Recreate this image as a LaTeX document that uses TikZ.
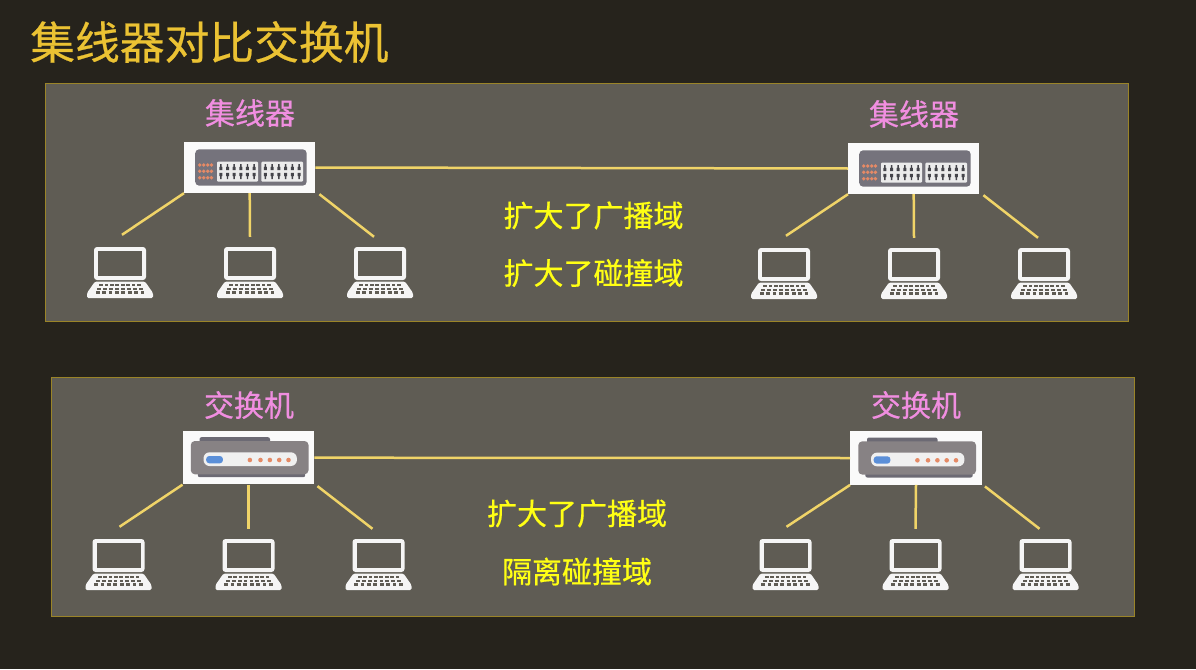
\documentclass[tikz,border=0pt]{standalone}
\usepackage{fontspec}
\setmainfont{Noto Sans CJK SC}
\newfontfamily\heavycjk[FakeBold=0.5]{Noto Sans CJK SC}
\definecolor{bgc}{HTML}{26231C}
\definecolor{panelc}{HTML}{5F5C54}
\definecolor{borderc}{HTML}{9A8428}
\definecolor{linec}{HTML}{F0D468}
\definecolor{pinkc}{HTML}{F08EE0}
\definecolor{yelc}{HTML}{FFFF14}
\definecolor{goldc}{HTML}{EBC233}
\definecolor{hubg}{HTML}{75737C}
\definecolor{swg}{HTML}{878284}
\definecolor{swd}{HTML}{6C6A74}
\definecolor{orangec}{HTML}{E58A66}
\definecolor{bluec}{HTML}{5B8FD8}
\definecolor{portc}{HTML}{44444A}
\tikzset{
  panel/.style={draw=borderc,line width=0.8pt,fill=panelc},
  wire/.style={draw=linec,line width=2.5pt},
  devlabel/.style={text=pinkc,font=\heavycjk\fontsize{30}{30}\selectfont,inner sep=0pt},
  domlabel/.style={text=yelc,font=\heavycjk\fontsize{30}{30}\selectfont,inner sep=0pt},
  titlelabel/.style={text=goldc,font=\heavycjk\fontsize{44.8}{46}\selectfont,inner sep=0pt},
  hubbox/.style={fill=white!98!black,draw=none,minimum width=131pt,minimum height=51pt,inner sep=0pt},
  swbox/.style={fill=white!98!black,draw=none,minimum width=131.5pt,minimum height=53.5pt,inner sep=0pt},
  lapbox/.style={draw=none,minimum width=66pt,minimum height=63pt,inner sep=0pt},
}
% laptop: name, x, y of node centre
\newcommand{\laptopicon}[3]{%
  \node[lapbox] (#1) at (#2,#3) {};
  \begin{scope}[shift={(#2,#3)}]
    \fill[white!96!black,rounded corners=3pt] (-26,-19.5) rectangle (26,13.5);
    \fill[panelc] (-22,-15.5) rectangle (22,9.5);
    \fill[white!96!black,rounded corners=1.5pt] (-25,15) -- (25,15) -- (33,26.5) -- (33,31.5) -- (-33,31.5) -- (-33,26.5) -- cycle;
    \foreach \r/\w in {18.8/5.4,22.4/5.9,26/6.4}{
      \foreach \k in {-3.5,-2.5,-1.5,-0.5,0.5,1.5,2.5,3.5}{
        \fill[panelc] ({\k*\w-1.9},\r-1.1) rectangle ({\k*\w+1.9},\r+1.1);
      }
    }
  \end{scope}
}
\newcommand{\hubicon}[3]{%
  \node[hubbox] (#1) at (#2,#3) {};
  \begin{scope}[shift={(#2,#3)}]
    \fill[hubg,rounded corners=4pt] (-54.5,-18.2) rectangle (57,18.2);
    \foreach \xx in {-50,-46,-42,-38.3}{\foreach \yy in {-2.5,3.8,10.2}{
      \fill[orangec] (\xx,\yy) circle (1.9);
    }}
    \foreach \pa/\pb in {-32.7/8.3,11.7/53.3}{
      \fill[white!92!black,rounded corners=1pt] (\pa,-5.8) rectangle (\pb,14.2);
      \foreach \i in {0,...,5}{
        \pgfmathsetmacro{\cx}{\pa+3.9+\i*(\pb-\pa-7.8)/5}
        \fill[portc] (\cx-1.5,-0.6) -- (\cx-1.5,2.6) -- (\cx+1.5,2.6) -- (\cx+1.5,-0.6) -- (\cx+0.7,-0.6) -- (\cx+0.7,-3.4) -- (\cx-0.7,-3.4) -- (\cx-0.7,-0.6) -- cycle;
        \fill[portc] (\cx-1.5,5.4) -- (\cx+1.5,5.4) -- (\cx+1.5,8.6) -- (\cx+0.7,8.6) -- (\cx+0.7,11.6) -- (\cx-0.7,11.6) -- (\cx-0.7,8.6) -- (\cx-1.5,8.6) -- cycle;
      }
    }
  \end{scope}
}
\newcommand{\swicon}[3]{%
  \node[swbox] (#1) at (#2,#3) {};
  \begin{scope}[shift={(#2,#3)}]
    \fill[swd,rounded corners=2pt] (-49,-20.5) rectangle (21.5,-10);
    \fill[swd,rounded corners=2pt] (-50.7,10) rectangle (56.7,19.5);
    \fill[swg,rounded corners=4pt] (-57.7,-16.7) rectangle (60,16.6);
    \fill[white!94!black,rounded corners=6pt] (-45,-5.4) rectangle (48.4,8.3);
    \fill[bluec,rounded corners=3pt] (-42.3,-1.7) rectangle (-25.6,5.6);
    \foreach \xx in {1.4,12,21.4,30.7,40}{\fill[orangec] (\xx,2.3) circle (2.3);}
  \end{scope}
}
\begin{document}
\begin{tikzpicture}[x=1pt,y=-1pt]
\useasboundingbox (0,0) rectangle (1196,669);
\fill[bgc] (0,0) rectangle (1196,669);
\node[titlelabel,anchor=west] (title) at (30,42) {集线器对比交换机};
\node[panel,minimum width=1083pt,minimum height=238pt,anchor=north west,inner sep=0pt] (p1) at (45,82.5) {};
\node[panel,minimum width=1083pt,minimum height=239pt,anchor=north west,inner sep=0pt] (p2) at (50.5,377) {};

\hubicon{h1}{249.7}{167.5}
\hubicon{h2}{913.7}{168.5}
\swicon{s1}{248.5}{457.7}
\swicon{s2}{916}{458}

\node[devlabel] (h1t) at (250,113) {集线器};
\node[devlabel] (h2t) at (914,114) {集线器};
\node[devlabel] (s1t) at (249,405) {交换机};
\node[devlabel] (s2t) at (916,405) {交换机};

\node[domlabel] (d1) at (593.5,215.5) {扩大了广播域};
\node[domlabel] (d2) at (593.5,273) {扩大了碰撞域};
\node[domlabel] (d3) at (577,513.5) {扩大了广播域};
\node[domlabel] (d4) at (577,571.5) {隔离碰撞域};

\laptopicon{a1}{120}{266.5}
\laptopicon{a2}{250}{266.5}
\laptopicon{a3}{380}{266.5}
\laptopicon{b1}{784}{267.5}
\laptopicon{b2}{914}{267.5}
\laptopicon{b3}{1044}{267.5}
\laptopicon{c1}{118.5}{558.5}
\laptopicon{c2}{248.5}{558.5}
\laptopicon{c3}{378.5}{558.5}
\laptopicon{e1}{785.5}{558.5}
\laptopicon{e2}{915.5}{558.5}
\laptopicon{e3}{1045.5}{558.5}

\draw[wire] (h1.east) -- (h2.west);
\draw[wire] (s1.east) -- (s2.west);

\draw[wire] (h1.south west) -- ([xshift=2pt]a1.north);
\draw[wire] (h1.south) -- ([yshift=-2pt]a2.north);
\draw[wire] ([xshift=4pt,yshift=-1pt]h1.south east) -- ([xshift=-6pt,yshift=-2pt]a3.north);
\draw[wire] (h2.south west) -- ([xshift=2pt]b1.north);
\draw[wire] (h2.south) -- ([yshift=-2pt]b2.north);
\draw[wire] ([xshift=4pt,yshift=-1pt]h2.south east) -- ([xshift=-6pt,yshift=-2pt]b3.north);

\draw[wire] (s1.south west) -- ([xshift=1pt]c1.north);
\draw[wire] (s1.south) -- ([yshift=-2pt]c2.north);
\draw[wire] ([xshift=3pt,yshift=-1.5pt]s1.south east) -- ([xshift=-6pt,yshift=-2pt]c3.north);
\draw[wire] (s2.south west) -- ([xshift=1pt]e1.north);
\draw[wire] (s2.south) -- ([yshift=-2pt]e2.north);
\draw[wire] ([xshift=3pt,yshift=-1.5pt]s2.south east) -- ([xshift=-6pt,yshift=-2pt]e3.north);
\end{tikzpicture}
\end{document}
